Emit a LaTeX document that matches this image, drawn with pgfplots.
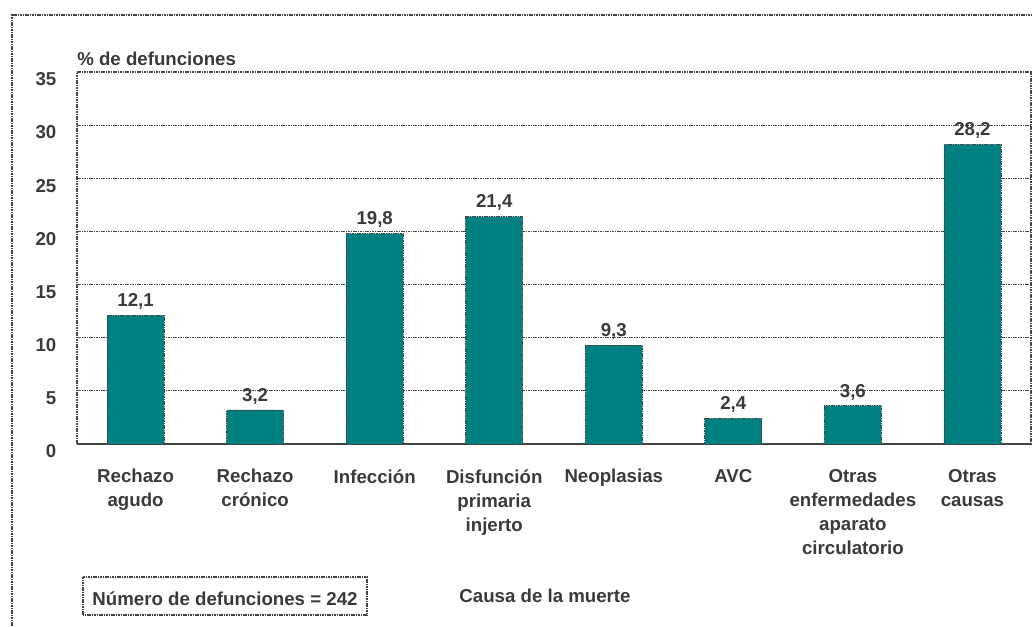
\documentclass[border=0pt]{standalone}
\usepackage{fontspec}
\setmainfont{Liberation Sans}
\usepackage{pgfplots}
\pgfplotsset{compat=1.18}
\definecolor{barteal}{HTML}{008080}
\definecolor{txt}{HTML}{3A3A3A}
\definecolor{ln}{HTML}{444444}
\newcommand{\tf}{\fontsize{14}{18}\selectfont\bfseries}
\begin{document}
\begin{tikzpicture}[every node/.style={font=\tf, text=txt}]
\path[use as bounding box] (0,0) rectangle (774pt,469.5pt);
\draw[ln, line width=0.9pt, dash pattern=on 1.2pt off 0.6pt] (9pt,0) -- (9pt,458.25pt) -- (774pt,458.25pt);
\begin{axis}[
  at={(57.75pt,136.5pt)}, anchor=south west,
  scale only axis, width=715.5pt, height=279pt,
  xmin=-0.49, xmax=7.49, ymin=0, ymax=35,
  ytick={0,5,...,35},
  xtick=data,
  xticklabels={{Rechazo\\agudo},{Rechazo\\crónico},{Infección},{Disfunción\\primaria\\injerto},{Neoplasias},{AVC},{Otras\\enfermedades\\aparato\\circulatorio},{Otras\\causas}},
  xticklabel style={align=center, anchor=north, yshift=-15.5pt, font=\tf, text=txt},
  yticklabel style={anchor=east, xshift=-12pt, yshift=-5.5pt, font=\tf, text=txt},
  /pgf/number format/assume math mode=true,
  major tick length=0pt,
  ymajorgrids,
  grid style={ln, line width=0.9pt, dash pattern=on 1.2pt off 0.6pt},
  axis line style={ln, line width=1.1pt, dash pattern=on 1.2pt off 0.6pt},
  ybar, bar width=42.75pt,
  point meta=explicit symbolic,
  nodes near coords,
  nodes near coords style={anchor=base, yshift=6.5pt, font=\tf, text=txt},
  clip=false,
]
\addplot[fill=barteal, draw=ln, line width=0.6pt, dash pattern=on 1.2pt off 0.6pt] coordinates {
  (0,12.1) [12,1]
  (1,3.2) [3,2]
  (2,19.8) [19,8]
  (3,21.4) [21,4]
  (4,9.3) [9,3]
  (5,2.4) [2,4]
  (6,3.6) [3,6]
  (7,28.2) [28,2]
};
\node[anchor=base west, inner sep=0pt] at ([yshift=5.25pt]rel axis cs:0,1) {\% de defunciones};
\end{axis}
\node at (408.75pt,22.5pt) {Causa de la muerte};
\draw[ln, line width=0.8pt, dash pattern=on 1.2pt off 0.6pt] (62.25pt,8.25pt) rectangle (275.25pt,36.75pt);
\node at (168.75pt,20.5pt) {Número de defunciones = 242};
\end{tikzpicture}
\end{document}
